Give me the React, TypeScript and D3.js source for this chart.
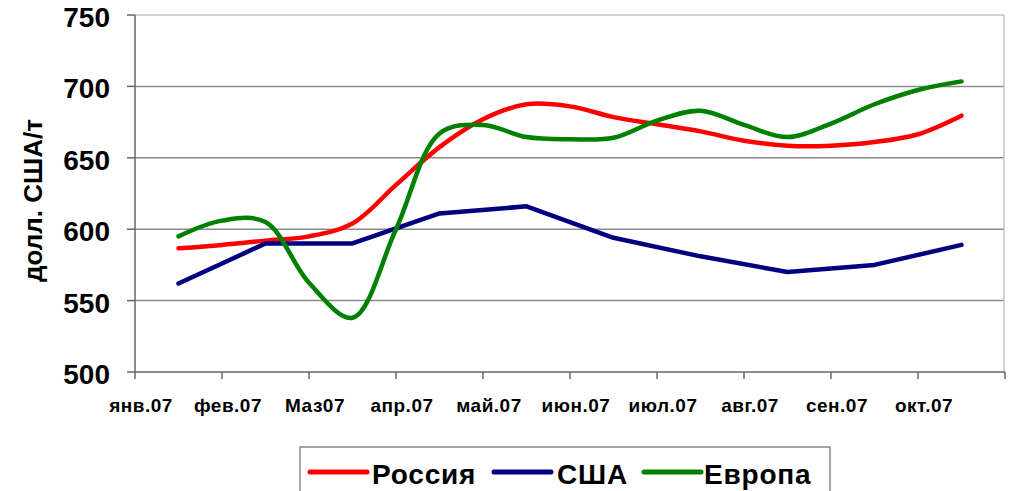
import React from 'react'
import * as d3 from 'd3'

// months on the category axis
const months = ['янв.07', 'фев.07', 'Маз07', 'апр.07', 'май.07', 'июн.07', 'июл.07', 'авг.07', 'сен.07', 'окт.07']

// positions (month index) of the half-month readings
const halfMonthPos = [0, 0.5, 1, 1.5, 2, 2.5, 3, 3.5, 4, 4.5, 5, 5.5, 6, 6.5, 7, 7.5, 8, 8.5, 9]
const monthPos = [0, 1, 2, 3, 4, 5, 6, 7, 8, 9]

const russia = [586.6, 589, 592, 595, 604, 631, 657.5, 677, 687.5, 686, 678.5, 673.5, 668.5, 662, 658.5, 658.5, 661, 666.5, 679.5]
const usa = [562, 590, 590, 611, 616, 594, 581, 570, 575, 589]
const europe = [595, 606, 605, 562.5, 538, 600, 667, 673, 664.5, 663, 664, 676, 683, 673, 664.5, 674, 687.5, 697.5, 703.5]

const yTicks = [500, 550, 600, 650, 700, 750]

const series = [
  { name: 'Россия', color: '#ff0000', pos: halfMonthPos, values: russia, smooth: true },
  { name: 'США', color: '#000080', pos: monthPos, values: usa, smooth: false },
  { name: 'Европа', color: '#008000', pos: halfMonthPos, values: europe, smooth: true },
]

const W = 1010
const H = 491
const FONT = '"Liberation Sans", Arial, sans-serif'

export default function App() {
  const left = 135, right = 1005, top = 15, bottom = 372

  const xBand = d3.scaleBand().domain(months).range([left, right])
  const x = d3.scaleLinear().domain([-0.5, months.length - 0.5]).range([left, right])
  const y = d3.scaleLinear().domain([500, 750]).range([bottom, top])

  const tickXs = months.map(m => xBand(m) as number).concat([right])

  const legendItems = [
    { x: 310, textX: 372 },
    { x: 494, textX: 557 },
    { x: 644, textX: 704 },
  ]

  return (
    <svg width={W} height={H} style={{ position: 'absolute', left: 0, top: 0, background: '#fff' }}>
      {/* gridlines */}
      {yTicks.filter(t => t > 500 && t < 750).map(t => (
        <line key={t} x1={left} x2={right - 1} y1={y(t)} y2={y(t)} stroke="#8a8a8a" strokeWidth={1.5} />
      ))}
      {/* plot frame top / right */}
      <line x1={left} x2={right - 1} y1={top} y2={top} stroke="#c4c4c4" strokeWidth={1.5} />
      <line x1={right - 1} x2={right - 1} y1={top} y2={bottom} stroke="#c4c4c4" strokeWidth={1.5} />

      {/* y axis */}
      <line x1={left} x2={left} y1={top} y2={bottom} stroke="#666" strokeWidth={1.5} />
      {yTicks.map(t => (
        <g key={t}>
          <line x1={left - 8} x2={left} y1={y(t)} y2={y(t)} stroke="#666" strokeWidth={1.5} />
          <text x={110} y={y(t) + 12} textAnchor="end" fontFamily={FONT} fontWeight="bold" fontSize={28} fill="#000">
            {t}
          </text>
        </g>
      ))}
      <text
        transform={`translate(42,${(top + bottom) / 2 + 7}) rotate(-90)`}
        textAnchor="middle"
        fontFamily={FONT}
        fontWeight="bold"
        fontSize={26}
        fill="#000"
      >
        долл. США/т
      </text>

      {/* x axis */}
      <line x1={left} x2={right} y1={bottom} y2={bottom} stroke="#666" strokeWidth={1.5} />
      {tickXs.map((tx, i) => (
        <line key={i} x1={tx} x2={tx} y1={bottom} y2={bottom + 7} stroke="#666" strokeWidth={1.5} />
      ))}
      {months.map(m => (
        <text key={m} x={(xBand(m) as number) + 6} y={412} textAnchor="middle" fontFamily={FONT} fontWeight="bold" fontSize={19} letterSpacing={0.5} fill="#000">
          {m}
        </text>
      ))}

      {/* series */}
      {series.map(s => {
        const line = d3.line<number>()
          .x((d, i) => x(s.pos[i]))
          .y(d => y(d))
          .curve(s.smooth ? d3.curveCatmullRom.alpha(0.5) : d3.curveLinear)
        return (
          <path key={s.name} d={line(s.values) || ''} fill="none" stroke={s.color} strokeWidth={4.5}
            strokeLinejoin="round" strokeLinecap="round" />
        )
      })}

      {/* legend */}
      <rect x={300} y={447} width={530} height={60} fill="#fff" stroke="#888" strokeWidth={1.5} />
      {series.map((s, i) => (
        <g key={s.name}>
          <line x1={legendItems[i].x} x2={legendItems[i].x + 57} y1={472} y2={472} stroke={s.color} strokeWidth={5} strokeLinecap="round" />
          <text x={legendItems[i].textX} y={484} fontFamily={FONT} fontWeight="bold" fontSize={28} letterSpacing={0.8} fill="#000">
            {s.name}
          </text>
        </g>
      ))}
    </svg>
  )
}
